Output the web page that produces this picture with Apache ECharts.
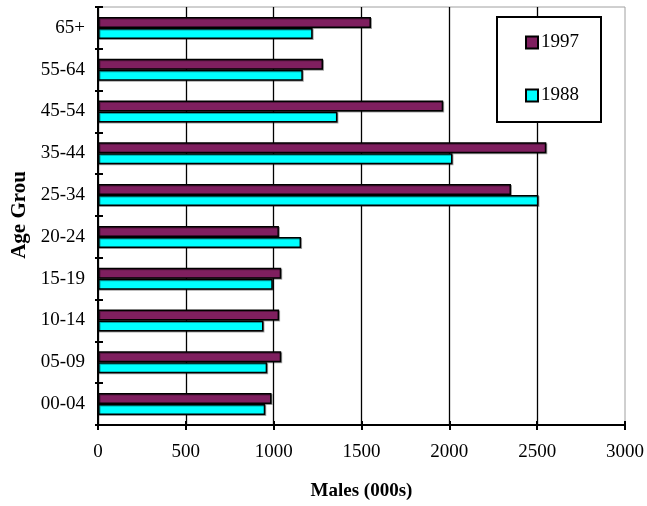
<!DOCTYPE html>
<html>
<head>
<meta charset="utf-8">
<script src="https://cdn.jsdelivr.net/npm/echarts@6/dist/echarts.min.js"></script>
<style>
html,body{margin:0;padding:0;background:#fff;}
#c{width:647px;height:506px;}
</style>
</head>
<body>
<div id="c"></div>
<script>
var categories = ['00-04','05-09','10-14','15-19','20-24','25-34','35-44','45-54','55-64','65+'];
var males1997 = [988, 1043, 1031, 1043, 1030, 2351, 2552, 1965, 1281, 1554];
var males1988 = [952, 963, 942, 995, 1156, 2507, 2018, 1363, 1166, 1222];
var xTicks = [0, 500, 1000, 1500, 2000, 2500, 3000];

var FONT = '"Liberation Serif", "Times New Roman", serif';
var chart = echarts.init(document.getElementById('c'), null, {renderer: 'canvas'});
var barStyle = function (color) {
  return {color: color, borderColor: '#000', borderWidth: 1.5,
          shadowColor: 'rgba(0,0,0,0.35)', shadowOffsetX: 1, shadowOffsetY: 1, shadowBlur: 0};
};
chart.setOption({
  animation: false,
  backgroundColor: '#fff',
  grid: {left: 98, right: 21, top: 7, bottom: 78, show: true, borderColor: '#a0a0a0', borderWidth: 1, backgroundColor: 'transparent'},
  legend: {
    data: ['1997', '1988'],
    orient: 'vertical',
    left: 497, top: 17,
    padding: [16, 22, 17, 28],
    itemGap: 34,
    itemWidth: 12, itemHeight: 12,
    icon: 'rect',
    backgroundColor: '#fff',
    borderColor: '#000', borderWidth: 2,
    textStyle: {fontFamily: FONT, fontSize: 19, color: '#000', padding: [0, 0, 0, -2]}
  },
  xAxis: [{
    type: 'value', min: 0, max: 3000, interval: 500,
    axisLine: {show: true, lineStyle: {color: '#000', width: 2}},
    axisTick: {show: true, length: 5, lineStyle: {color: '#000', width: 2}},
    axisLabel: {margin: 18, fontFamily: FONT, fontSize: 19, color: '#000',
      formatter: function (v) { return xTicks.indexOf(v) >= 0 ? String(v) : ''; }},
    splitLine: {show: true, showMaxLine: false, lineStyle: {color: '#000', width: 1.3}},
    name: 'Males (000s)', nameLocation: 'middle', nameGap: 57,
    nameTextStyle: {fontFamily: FONT, fontSize: 19, fontWeight: 'bold', color: '#000'}
  }, {
    type: 'value', min: 0, max: 3000, interval: 500, position: 'bottom',
    axisLine: {show: false},
    axisTick: {show: true, inside: true, length: 4, lineStyle: {color: '#000', width: 2}},
    axisLabel: {show: false}, splitLine: {show: false}
  }],
  yAxis: [{
    type: 'category', data: categories,
    axisLine: {show: true, lineStyle: {color: '#000', width: 2}},
    axisTick: {show: true, length: 3, lineStyle: {color: '#000', width: 2}},
    axisLabel: {margin: 13, fontFamily: FONT, fontSize: 19, color: '#000'},
    splitLine: {show: false}
  }, {
    type: 'category', data: categories, position: 'left',
    axisLine: {show: false},
    axisTick: {show: true, inside: true, length: 5, lineStyle: {color: '#000', width: 2}},
    axisLabel: {show: false}, splitLine: {show: false}
  }],
  graphic: [{
    type: 'text', x: 20, y: 215, rotation: Math.PI / 2,
    style: {text: 'Age Grou', fontFamily: FONT, fontSize: 21, fontWeight: 'bold', fill: '#000',
            letterSpacing: 3, align: 'center', verticalAlign: 'middle'}
  }],
  series: [{
    name: '1997', type: 'bar', data: males1997, barWidth: 11, barGap: '0%',
    itemStyle: barStyle('#7f1f5f')
  }, {
    name: '1988', type: 'bar', data: males1988, barWidth: 11, barGap: '0%',
    itemStyle: barStyle('#00ffff')
  }]
});
</script>
</body>
</html>
